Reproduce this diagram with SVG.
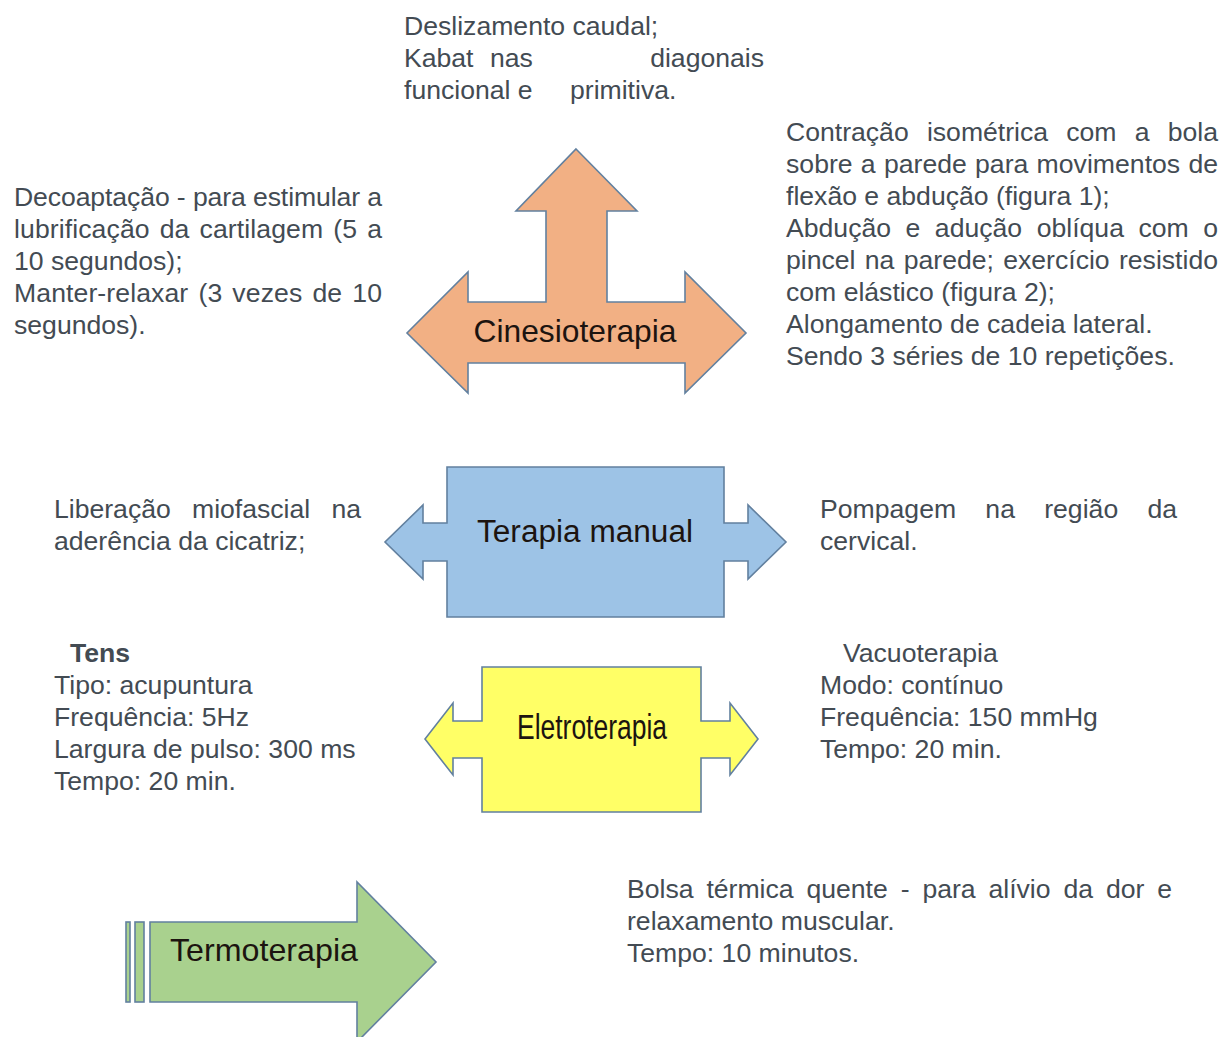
<svg xmlns="http://www.w3.org/2000/svg" width="1222" height="1037" viewBox="0 0 1222 1037">
<style>
.t{font-family:"Liberation Sans",Arial,Helvetica,sans-serif;font-size:26.6px;fill:#434b53}
.b{font-weight:bold}
.lbl{font-family:"Liberation Sans",Arial,Helvetica,sans-serif;fill:#1c1410;text-anchor:middle}
.shape{stroke:#62809f;stroke-width:1.6;stroke-linejoin:miter}
</style>
<rect width="1222" height="1037" fill="#ffffff"/>

<g id="node-cinesioterapia">
<polygon class="shape" fill="#f2b084" points="576,149 637,211 607,211 607,302 685,302 685,272 746,333 685,393 685,363 468,363 468,393 407,333 468,272 468,302 546,302 546,211 516,211"/>
<text class="lbl" x="575" y="342" font-size="32" textLength="203" lengthAdjust="spacingAndGlyphs">Cinesioterapia</text>
</g>

<g id="node-terapia-manual">
<polygon class="shape" fill="#9dc3e6" points="447,467 724,467 724,523 748,523 748,505 786,542 748,579 748,561 724,561 724,617 447,617 447,561 423,561 423,579 385,542 423,505 423,523 447,523"/>
<text class="lbl" x="585" y="542" font-size="31" textLength="216" lengthAdjust="spacingAndGlyphs">Terapia manual</text>
</g>

<g id="node-eletroterapia">
<polygon class="shape" fill="#ffff66" points="482,667 701,667 701,721 730,721 730,703 758,739 730,775 730,758 701,758 701,812 482,812 482,758 453,758 453,775 425,739 453,703 453,721 482,721"/>
<text class="lbl" x="592" y="739" font-size="35" textLength="150" lengthAdjust="spacingAndGlyphs">Eletroterapia</text>
</g>

<g id="node-termoterapia">
<rect class="shape" fill="#a9d18e" x="126" y="922" width="4" height="80"/>
<rect class="shape" fill="#a9d18e" x="135" y="922" width="9" height="80"/>
<polygon class="shape" fill="#a9d18e" points="150,922 357,922 357,882 436,962 357,1042 357,1002 150,1002"/>
<text class="lbl" x="264" y="961" font-size="32" textLength="188" lengthAdjust="spacingAndGlyphs">Termoterapia</text>
</g>

<g id="connectors"></g>

<g id="text-top">
<text class="t" x="404" y="35">Deslizamento caudal;</text>
<text class="t" y="67"><tspan x="404">Kabat</tspan><tspan x="490">nas</tspan><tspan x="764" text-anchor="end">diagonais</tspan></text>
<text class="t" y="99"><tspan x="404">funcional e</tspan><tspan x="570">primitiva.</tspan></text>
</g>

<g id="text-left-top">
<text class="t" x="14" y="206" textLength="368" lengthAdjust="spacing">Decoaptação - para estimular a</text>
<text class="t" x="14" y="238" word-spacing="2.6" textLength="368" lengthAdjust="spacing">lubrificação da cartilagem (5 a</text>
<text class="t" x="14" y="270">10 segundos);</text>
<text class="t" x="14" y="302" word-spacing="2.6" textLength="368" lengthAdjust="spacing">Manter-relaxar (3 vezes de 10</text>
<text class="t" x="14" y="334">segundos).</text>
</g>

<g id="text-right-top">
<text class="t" x="786" y="141" word-spacing="10.8" textLength="432" lengthAdjust="spacing">Contração isométrica com a bola</text>
<text class="t" x="786" y="173" word-spacing="0.8" textLength="432" lengthAdjust="spacing">sobre a parede para movimentos de</text>
<text class="t" x="786" y="205">flexão e abdução (figura 1);</text>
<text class="t" x="786" y="237" word-spacing="7.1" textLength="432" lengthAdjust="spacing">Abdução e adução oblíqua com o</text>
<text class="t" x="786" y="269" word-spacing="1.9" textLength="432" lengthAdjust="spacing">pincel na parede; exercício resistido</text>
<text class="t" x="786" y="301">com elástico (figura 2);</text>
<text class="t" x="786" y="333">Alongamento de cadeia lateral.</text>
<text class="t" x="786" y="365">Sendo 3 séries de 10 repetições.</text>
</g>

<g id="text-left-mid">
<text class="t" x="54" y="518" word-spacing="13.9" textLength="307" lengthAdjust="spacing">Liberação miofascial na</text>
<text class="t" x="54" y="550">aderência da cicatriz;</text>
</g>

<g id="text-right-mid">
<text class="t" x="820" y="518" word-spacing="21.8" textLength="357" lengthAdjust="spacing">Pompagem na região da</text>
<text class="t" x="820" y="550">cervical.</text>
</g>

<g id="text-tens">
<text class="t b" x="70" y="662">Tens</text>
<text class="t" x="54" y="694">Tipo: acupuntura</text>
<text class="t" x="54" y="726">Frequência: 5Hz</text>
<text class="t" x="54" y="758">Largura de pulso: 300 ms</text>
<text class="t" x="54" y="790">Tempo: 20 min.</text>
</g>

<g id="text-vacuo">
<text class="t" x="843" y="662">Vacuoterapia</text>
<text class="t" x="820" y="694">Modo: contínuo</text>
<text class="t" x="820" y="726">Frequência: 150 mmHg</text>
<text class="t" x="820" y="758">Tempo: 20 min.</text>
</g>

<g id="text-bolsa">
<text class="t" x="627" y="898" word-spacing="5.5" textLength="545" lengthAdjust="spacing">Bolsa térmica quente - para alívio da dor e</text>
<text class="t" x="627" y="930">relaxamento muscular.</text>
<text class="t" x="627" y="962">Tempo: 10 minutos.</text>
</g>
</svg>
